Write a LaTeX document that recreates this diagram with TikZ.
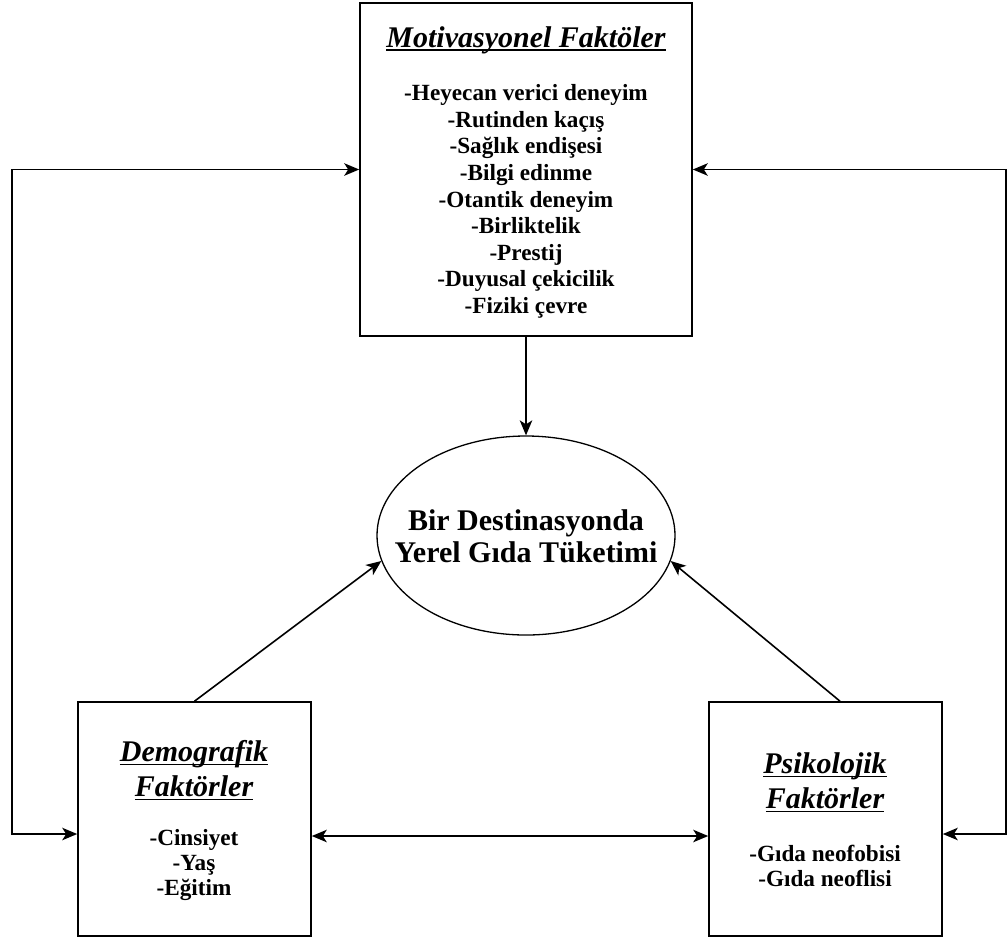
\documentclass[tikz,border=0pt]{standalone}
\usepackage{fontspec}
\setmainfont{Liberation Serif}
\usetikzlibrary{shapes.geometric,arrows.meta}
% underline drawn as a rule at a fixed depth below the baseline
\newsavebox{\headbox}
\newcommand{\headrule}[1]{\sbox{\headbox}{#1}\rlap{\usebox{\headbox}}\rule[-3.5pt]{\wd\headbox}{1.6pt}}
\begin{document}
\begin{tikzpicture}[x=1pt,y=-1pt,
  line width=1.6pt,
  frame/.style={draw,rectangle,inner sep=0pt,minimum width=#1,minimum height=234pt},
  hub/.style={draw,ellipse,inner sep=0pt,minimum width=298pt,minimum height=199pt,line width=1.3pt},
  heading/.style={align=center,font=\fontsize{30}{35}\selectfont\bfseries\itshape},
  items/.style={align=center,font=\fontsize{23.2}{25}\selectfont\bfseries},
  tip/.style={Stealth[length=15pt,width=12.5pt,inset=4pt]},
  arr/.style={-{Stealth[length=15pt,width=12.5pt,inset=4pt]}},
  biarr/.style={{Stealth[length=15pt,width=12.5pt,inset=4pt]}-{Stealth[length=15pt,width=12.5pt,inset=4pt]}}]
\useasboundingbox (0,0) rectangle (1008,938);

% boxes and central ellipse
\node[frame=332pt,minimum height=333pt] (mot) at (526,169.5) {};
\node[hub] (cons) at (526,535.5) {};
\node[frame=233pt] (dem) at (194.5,819) {};
\node[frame=233pt] (psy) at (825.5,819) {};

% texts
\node[heading] (motT) at (526,40) {\headrule{Motivasyonel Faktöler}};
\node[items,font=\fontsize{23.2}{26.6}\selectfont\bfseries] (motL) at (526,201.5)
  {-Heyecan verici deneyim\\-Rutinden kaçış\\-Sağlık endişesi\\-Bilgi edinme\\-Otantik deneyim\\-Birliktelik\\-Prestij\\-Duyusal çekicilik\\-Fiziki çevre};
\node[align=center,font=\fontsize{30}{32}\selectfont\bfseries] (consT) at (526,536)
  {Bir Destinasyonda\\Yerel Gıda Tüketimi};
\node[heading] (demT) at (194,770.5) {\headrule{Demografik}\\\headrule{Faktörler}};
\node[items] (demL) at (194,865) {-Cinsiyet\\-Yaş\\-Eğitim};
\node[heading] (psyT) at (825,782.5) {\headrule{Psikolojik}\\\headrule{Faktörler}};
\node[items] (psyL) at (825,866) {-Gıda neofobisi\\-Gıda neoflisi};

% connector anchors
\coordinate (lx) at (12,0);
\coordinate (rx) at (1006,0);
\coordinate (demW) at ([yshift=-15pt]dem.west);
\coordinate (psyE) at ([yshift=-15pt]psy.east);
\coordinate (demE) at ([yshift=-17pt]dem.east);
\coordinate (psyW) at ([yshift=-17pt]psy.west);
\coordinate (psyN) at ([xshift=14.5pt]psy.north);

% connectors
\draw[arr] (mot) -- (cons);
\draw[arr] (dem.north) -- (cons.190);
\draw[arr] (psyN) -- (cons.350);
\draw[biarr] (demE) -- (psyW);
\draw[biarr] (mot.west) -- (lx |- mot.west) -- (lx |- demW) -- (demW);
\draw[biarr] (mot.east) -- (rx |- mot.east) -- (rx |- psyE) -- (psyE);
\end{tikzpicture}
\end{document}
